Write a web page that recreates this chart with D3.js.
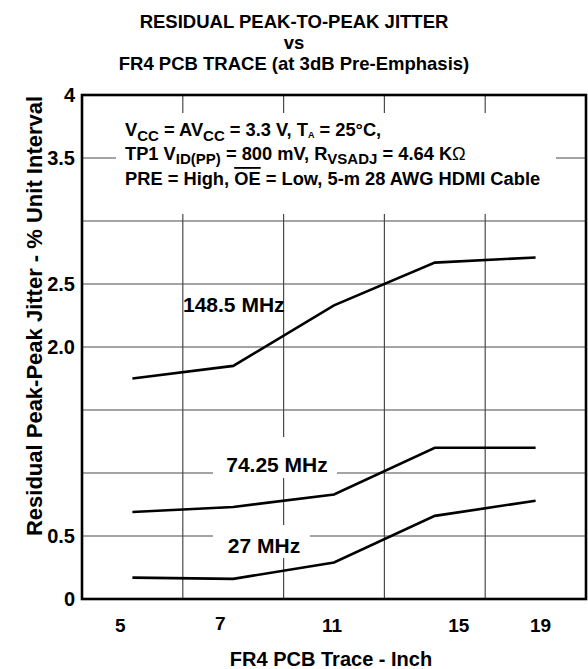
<!DOCTYPE html>
<html>
<head>
<meta charset="utf-8">
<script src="https://cdn.jsdelivr.net/npm/d3@7"></script>
<style>
  body { margin: 0; background: #fff; }
  text { font-family: "Liberation Sans", Arial, Helvetica, sans-serif; font-weight: bold; fill: #000; }
</style>
</head>
<body>
<script>
// data
const traceLengths = ["5", "7", "11", "15", "19"];
const jitter148 = [1.75, 1.85, 2.33, 2.67, 2.71];
const jitter74 = [0.69, 0.73, 0.83, 1.20, 1.20];
const jitter27 = [0.17, 0.16, 0.29, 0.66, 0.78];
const gridValues = [0.5, 1, 1.5, 2, 2.5, 3, 3.5];
const yTickValues = [0, 0.5, 2, 2.5, 3.5, 4];
const yTickLabels = ["0", "0.5", "2.0", "2.5", "3.5", "4"];
const seriesNames = ["148.5 MHz", "74.25 MHz", "27 MHz"];

const w = 588, h = 669;
const plotL = 82, plotR = 586, plotT = 95, plotB = 599;

const svg = d3.select("body").append("svg")
  .attr("width", w)
  .attr("height", h);

const xScale = d3.scaleBand().domain(traceLengths).range([plotL, plotR]);
const yScale = d3.scaleLinear().domain([0, 4]).range([plotB, plotT]);
const cx = d => xScale(d) + xScale.bandwidth() / 2;

// title
const title = svg.append("text").attr("text-anchor", "middle").style("font-size", "18.5px");
[["RESIDUAL PEAK-TO-PEAK JITTER", 28], ["vs", 49], ["FR4 PCB TRACE (at 3dB Pre-Emphasis)", 70]]
  .forEach(([t, yy]) => title.append("tspan").attr("x", 294).attr("y", yy).text(t));

// grid
svg.append("g").selectAll("line")
  .data(traceLengths.slice(1))
  .enter().append("line")
  .attr("x1", d => xScale(d)).attr("x2", d => xScale(d))
  .attr("y1", plotT).attr("y2", plotB)
  .attr("stroke", "#4a4a4a").attr("stroke-width", 1.2);

svg.append("g").selectAll("line")
  .data(gridValues)
  .enter().append("line")
  .attr("x1", plotL).attr("x2", plotR)
  .attr("y1", d => yScale(d)).attr("y2", d => yScale(d))
  .attr("stroke", "#4a4a4a").attr("stroke-width", 1.2);

// white boxes behind the notes and labels
svg.append("rect").attr("x", 116).attr("y", 113).attr("width", 440).attr("height", 101).attr("fill", "#fff");
svg.append("rect").attr("x", 213).attr("y", 437).attr("width", 124).attr("height", 41).attr("fill", "#fff");
svg.append("rect").attr("x", 213).attr("y", 525).attr("width", 97).attr("height", 33).attr("fill", "#fff");

// curves
const line = d3.line().x((d, i) => cx(traceLengths[i])).y(d => yScale(d));
[jitter148, jitter74, jitter27].forEach(s => {
  svg.append("path")
    .datum(s)
    .attr("d", line)
    .attr("fill", "none")
    .attr("stroke", "#000")
    .attr("stroke-width", 2.6);
});

// curve labels
const labelPos = [[183, 312, "start"], [277, 472, "middle"], [264, 553, "middle"]];
seriesNames.forEach((n, i) => {
  svg.append("text")
    .attr("x", labelPos[i][0]).attr("y", labelPos[i][1])
    .attr("text-anchor", labelPos[i][2])
    .style("font-size", "21px")
    .text(n);
});

// conditions note
const note = svg.append("g").style("font-size", "18.3px");
const l1 = note.append("text").attr("x", 125).attr("y", 136);
l1.append("tspan").text("V");
l1.append("tspan").attr("dy", 5).style("font-size", "15px").text("CC");
l1.append("tspan").attr("dy", -5).text(" = AV");
l1.append("tspan").attr("dy", 5).style("font-size", "15px").text("CC");
l1.append("tspan").attr("dy", -5).text(" = 3.3 V, T");
l1.append("tspan").attr("dy", 2).style("font-size", "9px").text("A");
l1.append("tspan").attr("dy", -2).text(" = 25°C,");

const l2 = note.append("text").attr("x", 125).attr("y", 160);
l2.append("tspan").text("TP1 V");
l2.append("tspan").attr("dy", 4).style("font-size", "15px").text("ID(PP)");
l2.append("tspan").attr("dy", -4).text(" = 800 mV, R");
l2.append("tspan").attr("dy", 4).style("font-size", "15px").text("VSADJ");
l2.append("tspan").attr("dy", -4).text(" = 4.64 K");
l2.append("tspan").style("font-weight", "normal").text("Ω");

const l3 = note.append("text").attr("x", 125).attr("y", 185);
l3.append("tspan").text("PRE = High, ");
l3.append("tspan").style("text-decoration", "overline").text("OE");
l3.append("tspan").text(" = Low, 5-m 28 AWG HDMI Cable");

// axes
const yAxis = d3.axisLeft(yScale)
  .tickValues(yTickValues)
  .tickFormat((d, i) => yTickLabels[i])
  .tickSize(0).tickPadding(7);
const gy = svg.append("g").attr("transform", "translate(" + plotL + ",0)").call(yAxis);
gy.select(".domain").remove();
gy.selectAll("text").style("font-size", "20px");

const xNudge = [-12, -13, -2, 24, 5];
const xAxis = d3.axisBottom(xScale).tickSize(0).tickPadding(20);
const gx = svg.append("g").attr("transform", "translate(0," + plotB + ")").call(xAxis);
gx.select(".domain").remove();
gx.selectAll("text")
  .style("font-size", "19px")
  .attr("x", (d, i) => xNudge[i])
  .attr("y", (d, i) => i === 1 ? 18 : 20);
gy.attr("font-family", null);
gx.attr("font-family", null);

// plot frame
svg.append("rect")
  .attr("x", plotL).attr("y", plotT)
  .attr("width", plotR - plotL).attr("height", plotB - plotT)
  .attr("fill", "none").attr("stroke", "#000").attr("stroke-width", 2.6);

// axis titles
svg.append("text")
  .attr("x", 331).attr("y", 666)
  .attr("text-anchor", "middle")
  .style("font-size", "20px")
  .text("FR4 PCB Trace - Inch");

svg.append("text")
  .attr("transform", "translate(42," + 316 + ") rotate(-90)")
  .attr("text-anchor", "middle")
  .style("font-size", "22px")
  .text("Residual Peak-Peak Jitter - % Unit Interval");
</script>
</body>
</html>
